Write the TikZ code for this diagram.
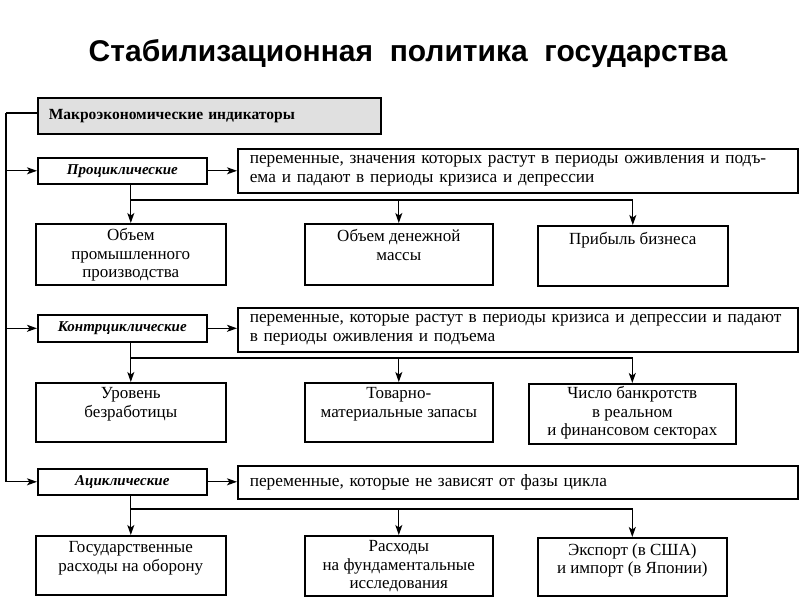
\documentclass[tikz,border=0pt]{standalone}
\usepackage{fontspec}
\setmainfont{Liberation Serif}
\newfontfamily\titlefont{Liberation Sans}
\usetikzlibrary{arrows.meta}
\begin{document}
\begin{tikzpicture}[x=1pt,y=-1pt,
  bx/.style={draw, line width=1.6pt, inner sep=0pt, anchor=north west},
  hdrbox/.style={bx, fill=black!12, inner xsep=11pt, text width=321pt, align=left,
     font=\bfseries\fontsize{15.5}{18}\selectfont},
  catbox/.style={bx, align=center, font=\bfseries\itshape\fontsize{15}{18}\selectfont},
  descbox/.style={bx, inner xsep=12pt, text width=536pt, align=left,
     font=\fontsize{17.3}{19}\selectfont},
  ctext/.style={anchor=north, inner sep=0pt, align=center, font=\fontsize{17}{18.7}\selectfont},
  ln/.style={line width=1.2pt},
  arr/.style={ln, -{Stealth[length=10pt,width=7pt,inset=2.5pt]}}
]
\useasboundingbox (0,0) rectangle (800,600);

\node[font=\titlefont\bfseries\fontsize{30}{34}\selectfont] (title) at (408,54) {Стабилизационная\ \ политика\ \ государства};

% header and categories
\node[hdrbox, minimum width=343pt, minimum height=36pt] (hdr) at (37,97) {Макроэкономические индикаторы};
\node[catbox, minimum width=169pt, minimum height=26pt] (pro) at (37,157) {Проциклические};
\node[catbox, minimum width=169pt, minimum height=27pt] (con) at (37,314) {Контрциклические};
\node[catbox, minimum width=169pt, minimum height=26pt] (acy) at (37,468) {Ациклические};

\node[descbox, minimum height=44pt] (d1) at (237,148) {переменные, значения которых растут в периоды оживления и подъ-\\ема и падают в периоды кризиса и депрессии};
\node[descbox, minimum height=44pt] (d2) at (237,307) {переменные, которые растут в периоды кризиса и депрессии и падают\\в периоды оживления и подъема};
\node[descbox, minimum height=33pt] (d3) at (237,465) {переменные, которые не зависят от фазы цикла};

% child boxes
\node[bx, minimum width=190pt, minimum height=61pt] (b11) at (35,223) {};
\node[bx, minimum width=188pt, minimum height=61pt] (b12) at (304,223) {};
\node[bx, minimum width=190pt, minimum height=60pt] (b13) at (537,225) {};
\node[bx, minimum width=190pt, minimum height=59pt] (b21) at (35,382) {};
\node[bx, minimum width=188pt, minimum height=59pt] (b22) at (304,382) {};
\node[bx, minimum width=207pt, minimum height=60pt] (b23) at (528,383) {};
\node[bx, minimum width=190pt, minimum height=59pt] (b31) at (35,535) {};
\node[bx, minimum width=188pt, minimum height=60pt] (b32) at (304,535) {};
\node[bx, minimum width=189pt, minimum height=58pt] (b33) at (537,537) {};

\node[ctext] (t11) at ([yshift=-5pt]b11.north) {Объем\\промышленного\\производства};
\node[ctext] (t12) at ([yshift=-6pt]b12.north) {Объем денежной\\массы};
\node[ctext] (t13) at ([yshift=-7pt]b13.north) {Прибыль бизнеса};
\node[ctext] (t21) at ([yshift=-5pt]b21.north) {Уровень\\безработицы};
\node[ctext] (t22) at ([yshift=-5pt]b22.north) {Товарно-\\материальные запасы};
\node[ctext] (t23) at ([yshift=-3pt]b23.north) {Число банкротств\\в реальном\\и финансовом секторах};
\node[ctext] (t31) at ([yshift=-6pt]b31.north) {Государственные\\расходы на оборону};
\node[ctext] (t32) at ([yshift=-5pt]b32.north) {Расходы\\на фундаментальные\\исследования};
\node[ctext] (t33) at ([yshift=-6pt]b33.north) {Экспорт (в США)\\и импорт (в Японии)};

% left spine
\coordinate (sp) at (6,113);
\draw[ln] (hdr.west |- sp) -- (sp);
\draw[arr] (sp) |- (acy.west);
\draw[arr] (sp |- pro.west) -- (pro.west);
\draw[arr] (sp |- con.west) -- (con.west);

% category to description
\draw[arr] (pro.east) -- (d1.west |- pro.east);
\draw[arr] (con.east) -- (d2.west |- con.east);
\draw[arr] (acy.east) -- (d3.west |- acy.east);

% branches row 1
\coordinate (j1) at (130,200);
\draw[arr] (b11.north |- pro.south) -- (b11.north);
\draw[arr] (j1) -| (b13.north);
\draw[arr] (b12.north |- j1) -- (b12.north);
% row 2
\coordinate (j2) at (130,358);
\draw[arr] (b21.north |- con.south) -- (b21.north);
\draw[arr] (j2) -| (b23.north);
\draw[arr] (b22.north |- j2) -- (b22.north);
% row 3
\coordinate (j3) at (130,509);
\draw[arr] (b31.north |- acy.south) -- (b31.north);
\draw[arr] (j3) -| (b33.north);
\draw[arr] (b32.north |- j3) -- (b32.north);
\end{tikzpicture}
\end{document}
